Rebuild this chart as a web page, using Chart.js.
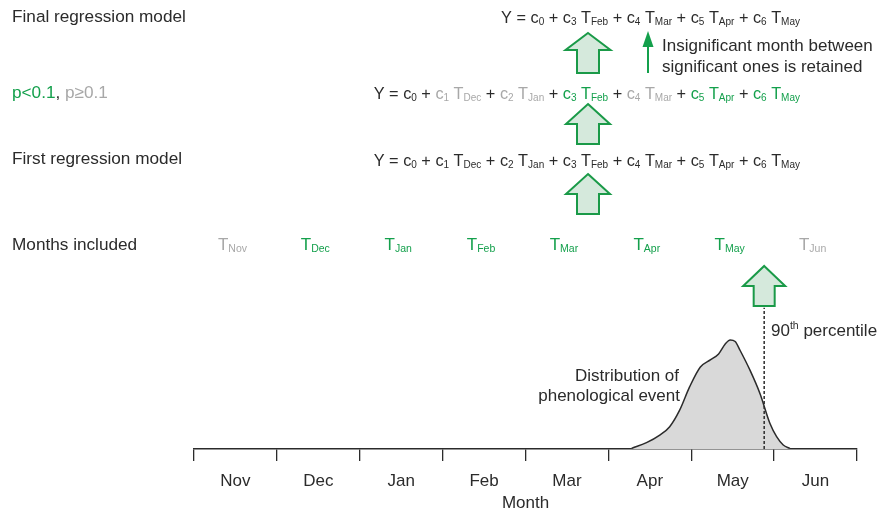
<!DOCTYPE html>
<html>
<head>
<meta charset="utf-8">
<script src="https://cdn.jsdelivr.net/npm/chart.js@4.4.0/dist/chart.umd.min.js"></script>
<style>
html, body { margin: 0; padding: 0; background: #fff; }
</style>
</head>
<body>
<canvas id="c" width="879" height="513"></canvas>
<script>
// month categories on the axis (index = month centre, Nov = 0)
const months = ['Nov', 'Dec', 'Jan', 'Feb', 'Mar', 'Apr', 'May', 'Jun'];
// which months are kept in the first model
const included = [false, true, true, true, true, true, true, false];

// distribution of the phenological event
const distX = [4.78, 4.96, 5.12, 5.24, 5.36, 5.48, 5.61, 5.73, 5.83, 5.91, 5.97, 6.03, 6.09, 6.21, 6.33, 6.45, 6.53, 6.61, 6.69];
const distY = [0.3, 3.2, 7, 11.2, 19.5, 31.2, 41.2, 44.8, 47.8, 52.8, 54.8, 54, 49.5, 39.5, 27.8, 12.8, 6.2, 2, 0.3];

// 90th percentile of the distribution
const percentile90 = 6.38;
const percentileTop = 71;

const DARK = '#2b2b2b';
const GREY = '#a8a8a8';
const GREEN = '#14a04c';
const ARROW_LINE = '#1a9a48';
const ARROW_FILL = '#d5e9dc';
const FONT = '"Liberation Sans", Arial, sans-serif';
const LABEL = 17.2;
let MAIN = 17;
let SUB = 10.5;

// draws a list of [text, colour, 'sub'|'sup'|undefined] pieces from left to right
function drawRich(ctx, x, y, segs, align) {
    let widths = [];
    let total = 0;
    for (let i = 0; i < segs.length; i++) {
        let s = segs[i];
        ctx.font = (s[2] ? SUB : MAIN) + 'px ' + FONT;
        let w = ctx.measureText(s[0]).width;
        widths.push(w);
        total += w;
    }
    if (align === 'center') x -= total / 2;
    if (align === 'right') x -= total;
    ctx.textAlign = 'left';
    ctx.textBaseline = 'alphabetic';
    for (let i = 0; i < segs.length; i++) {
        let s = segs[i];
        ctx.font = (s[2] ? SUB : MAIN) + 'px ' + FONT;
        ctx.fillStyle = s[1];
        let dy = 0;
        if (s[2] === 'sub') dy = 2;
        if (s[2] === 'sup') dy = -7;
        ctx.fillText(s[0], x, y + dy);
        x += widths[i];
    }
}

function bigArrow(ctx, cx, tip, headBase, bottom, headHalf, shaftHalf) {
    ctx.beginPath();
    ctx.moveTo(cx, tip);
    ctx.lineTo(cx + headHalf, headBase);
    ctx.lineTo(cx + shaftHalf, headBase);
    ctx.lineTo(cx + shaftHalf, bottom);
    ctx.lineTo(cx - shaftHalf, bottom);
    ctx.lineTo(cx - shaftHalf, headBase);
    ctx.lineTo(cx - headHalf, headBase);
    ctx.closePath();
    ctx.fillStyle = ARROW_FILL;
    ctx.fill();
    ctx.lineWidth = 2;
    ctx.strokeStyle = ARROW_LINE;
    ctx.lineJoin = 'miter';
    ctx.stroke();
}

// builds the equation pieces for the given terms: [coef index, month, colour]
function equation(terms) {
    let segs = [['Y = c', DARK], ['0', DARK, 'sub']];
    for (let i = 0; i < terms.length; i++) {
        let t = terms[i];
        segs.push([' + ', DARK]);
        segs.push(['c', t[2]]);
        segs.push([String(t[0]), t[2], 'sub']);
        segs.push([' T', t[2]]);
        segs.push([t[1], t[2], 'sub']);
    }
    return segs;
}

const annotations = {
    id: 'annotations',
    afterDraw(chart) {
        const ctx = chart.ctx;
        const xs = chart.scales.x;
        ctx.save();

        // left column
        MAIN = LABEL;
        drawRich(ctx, 12, 22, [['Final regression model', DARK]]);
        drawRich(ctx, 12, 98, [['p<0.1', GREEN], [', ', DARK], ['p\u22650.1', GREY]]);
        drawRich(ctx, 12, 164, [['First regression model', DARK]]);
        drawRich(ctx, 12, 250, [['Months included', DARK]]);

        // equations
        MAIN = 16.3;
        SUB = 10;
        drawRich(ctx, 800, 23, equation([[3, 'Feb', DARK], [4, 'Mar', DARK], [5, 'Apr', DARK], [6, 'May', DARK]]), 'right');
        drawRich(ctx, 800, 99, equation([[1, 'Dec', GREY], [2, 'Jan', GREY], [3, 'Feb', GREEN], [4, 'Mar', GREY], [5, 'Apr', GREEN], [6, 'May', GREEN]]), 'right');
        drawRich(ctx, 800, 166, equation([[1, 'Dec', DARK], [2, 'Jan', DARK], [3, 'Feb', DARK], [4, 'Mar', DARK], [5, 'Apr', DARK], [6, 'May', DARK]]), 'right');

        // months included row
        MAIN = 17;
        SUB = 10.5;
        for (let i = 0; i < months.length; i++) {
            let col = included[i] ? GREEN : GREY;
            drawRich(ctx, xs.getPixelForValue(i) - 3, 250, [['T', col], [months[i], col, 'sub']], 'center');
        }

        // block arrows
        bigArrow(ctx, 588, 33, 50, 73, 22.5, 11);
        bigArrow(ctx, 588, 104, 124, 144, 22, 11);
        bigArrow(ctx, 588, 174, 194, 214, 22, 11);
        bigArrow(ctx, xs.getPixelForValue(percentile90), 266, 286, 306, 21, 10.5);

        // thin arrow
        ctx.strokeStyle = GREEN;
        ctx.fillStyle = GREEN;
        ctx.lineWidth = 2;
        ctx.beginPath();
        ctx.moveTo(648, 73);
        ctx.lineTo(648, 44);
        ctx.stroke();
        ctx.beginPath();
        ctx.moveTo(648, 31);
        ctx.lineTo(653.5, 47);
        ctx.lineTo(642.5, 47);
        ctx.closePath();
        ctx.fill();

        drawRich(ctx, 662, 51, [['Insignificant month between', DARK]]);
        drawRich(ctx, 662, 72, [['significant ones is retained', DARK]]);

        drawRich(ctx, 679, 381, [['Distribution of', DARK]], 'right');
        drawRich(ctx, 680, 401, [['phenological event', DARK]], 'right');

        drawRich(ctx, 771, 336, [['90', DARK], ['th', DARK, 'sup'], [' percentile', DARK]]);

        ctx.restore();
    }
};

const ctx = document.getElementById('c').getContext('2d');
const chart = new Chart(ctx, {
    type: 'line',
    data: {
        datasets: [
            {
                label: '90th percentile',
                data: [{x: percentile90, y: 0}, {x: percentile90, y: percentileTop}],
                borderColor: DARK,
                borderWidth: 1.5,
                borderDash: [3, 2],
                pointRadius: 0,
                fill: false,
                order: 0
            },
            {
                label: 'Distribution',
                data: distX.map((x, i) => ({x: x, y: distY[i]})),
                borderColor: DARK,
                borderWidth: 1.5,
                backgroundColor: '#d9d9d9',
                fill: 'origin',
                pointRadius: 0,
                cubicInterpolationMode: 'monotone',
                order: 1
            }
        ]
    },
    options: {
        responsive: false,
        animation: false,
        layout: {padding: {left: 194, right: 22, top: 250, bottom: 1.5}},
        plugins: {legend: {display: false}, tooltip: {enabled: false}},
        scales: {
            x: {
                type: 'linear',
                min: -0.5,
                max: 7.5,
                afterBuildTicks: (s) => { s.ticks = months.map((m, i) => ({value: i})); },
                ticks: {
                    callback: (v) => months[Math.round(v)],
                    color: DARK,
                    font: {family: FONT, size: 17, lineHeight: 1},
                    padding: 11.5,
                    maxRotation: 0,
                    autoSkip: false
                },
                grid: {
                    offset: true,
                    drawOnChartArea: false,
                    drawTicks: true,
                    tickLength: 12,
                    color: DARK,
                    lineWidth: 1.3
                },
                border: {display: true, color: DARK, width: 1.5},
                title: {
                    display: true,
                    text: 'Month',
                    color: DARK,
                    font: {family: FONT, size: 17, lineHeight: 1},
                    padding: {top: -6.5, bottom: 0}
                }
            },
            y: {
                display: false,
                min: 0,
                max: 100
            }
        }
    },
    plugins: [annotations]
});
</script>
</body>
</html>
